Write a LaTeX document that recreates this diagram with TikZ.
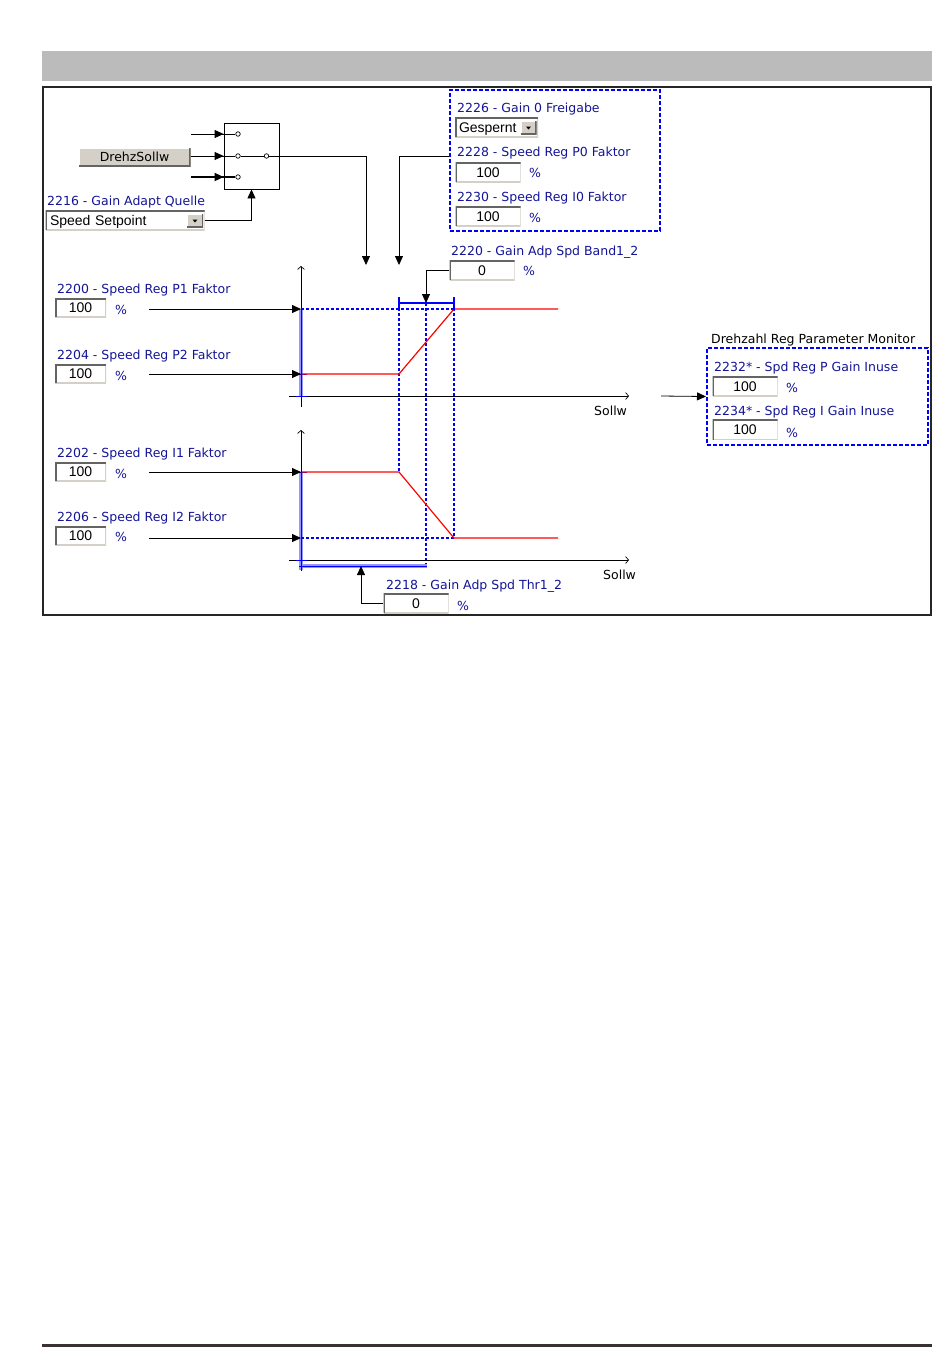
\documentclass[tikz,border=0pt]{standalone}
\usepackage{fontspec}
\setmainfont{Liberation Sans}
\newfontfamily\tahoma{DejaVu Sans}
\usetikzlibrary{arrows.meta}
\definecolor{parblue}{RGB}{20,20,150}
\definecolor{bandblue}{RGB}{0,0,255}
\definecolor{lightband}{RGB}{150,150,255}
\definecolor{headgray}{RGB}{187,187,187}
\definecolor{btngray}{RGB}{212,208,200}
\definecolor{shadegray}{RGB}{100,100,100}
\definecolor{rulegray}{RGB}{58,50,50}

\begin{document}
\begin{tikzpicture}[x=1pt, y=-1pt,
    lbl/.style = {anchor=base west, inner sep=0pt, text=parblue, font=\tahoma\fontsize{12.5}{14}\selectfont},
    axlbl/.style = {lbl, text=black},
    pct/.style = {inner sep=0pt, text=parblue, font=\tahoma\fontsize{12.5}{12}\selectfont},
    sunken/.style = {fill=white, inner sep=0pt, font=\fontsize{14}{14}\selectfont, text height=10pt, text depth=0pt,
        path picture={\draw[btngray, line width=2pt] (path picture bounding box.south west) -- (path picture bounding box.south east) -- (path picture bounding box.north east);
                      \draw[shadegray, line width=3pt] (path picture bounding box.south west) -- (path picture bounding box.north west) -- (path picture bounding box.north east);}},
    raised/.style = {fill=btngray, inner sep=0pt,
        path picture={\draw[white, line width=2pt] (path picture bounding box.south west) -- (path picture bounding box.north west) -- (path picture bounding box.north east);
                      \draw[shadegray, line width=3pt] (path picture bounding box.south west) -- (path picture bounding box.south east) -- (path picture bounding box.north east);}},
    val/.style = {sunken, minimum width=51pt, minimum height=19pt},
    wval/.style = {sunken, minimum width=65pt, minimum height=20pt},
    pin/.style = {draw, circle, fill=white, inner sep=0pt, minimum size=4.5pt, line width=0.7pt},
    sig/.style = {-{Triangle[length=9pt,width=8pt]}, line width=0.8pt},
    axis/.style = {-{Straight Barb[length=3pt,width=7pt]}, line width=0.7pt},
    ramp/.style = {red, line width=1.2pt},
    guide/.style = {bandblue, line width=1.2pt, dash pattern=on 3pt off 2pt},
    grp/.style = {draw=bandblue, line width=2pt, dash pattern=on 4pt off 2pt},
    bar/.style = {lightband, line width=4.5pt},
    barline/.style = {bandblue, line width=1pt}]

    \useasboundingbox (0,0) rectangle (950,1369);
    \fill[headgray] (42,51) rectangle (932,81);
    \draw[line width=2pt, black!85] (43,87) rectangle (931,615);
    \draw[line width=3pt, rulegray] (42,1345) -- (932,1345);

    % source switch
    \node[draw, line width=0.8pt, minimum width=55pt, minimum height=66pt] (Sw) at (251.5,156) {};
    \node[pin] (i1) at (238,134) {};
    \node[pin] (i2) at (238,156) {};
    \node[pin] (i3) at (238,177) {};
    \node[pin] (o1) at (266.5,156) {};
    \coordinate (s1) at (191,134);
    \coordinate (s3) at (191,177);
    \node[raised, minimum width=112pt, minimum height=19pt, font=\tahoma\fontsize{12.5}{14}\selectfont] (DS) at (134.5,157) {DrehzSollw};

    \draw[line width=0.8pt] (s1) -- (i1) (DS.east |- i2) -- (i2) -- (o1);
    \draw[line width=1.8pt] (s3) -- (i3);
    \path[sig] (s1) edge (Sw.west |- i1)
               (DS.east |- i2) edge (Sw.west |- i2);
    \path[sig, line width=1.8pt] (s3) edge (Sw.west |- i3);

    \node[lbl] (L2216) at (47,205.5) {2216 - Gain Adapt Quelle};
    \node[sunken, minimum width=159pt, minimum height=20pt, text width=150pt, align=left] (QSel) at (125,220) {Speed Setpoint};
    \node[raised, minimum width=16pt, minimum height=13pt] (QBtn) at (195,220.5) {};
    \fill (QBtn.center) ++(-2.5,-1) -- ++(5,0) -- ++(-2.5,3) -- cycle;
    \draw[sig] (QSel.east) -| (Sw.south);

    % gain 0 group
    \node[grp, minimum width=210pt, minimum height=141pt] (G0) at (555,160.5) {};
    \node[lbl] (L2226) at (457,112) {2226 - Gain 0 Freigabe};
    \node[sunken, minimum width=83pt, minimum height=20pt, text width=75pt, align=left] (Gesp) at (496.5,127) {Gespernt};
    \node[raised, minimum width=16pt, minimum height=14pt] (GBtn) at (528.5,127.5) {};
    \fill (GBtn.center) ++(-2.5,-1) -- ++(5,0) -- ++(-2.5,3) -- cycle;
    \node[lbl] (L2228) at (457,156) {2228 - Speed Reg P0 Faktor};
    \node[wval] (P0) at (488,172) {100};
    \node[pct] (P0pct) at (535,173) {\%};
    \node[lbl] (L2230) at (457,201) {2230 - Speed Reg I0 Faktor};
    \node[wval] (I0) at (488,216) {100};
    \node[pct] (I0pct) at (535,218) {\%};

    \coordinate (selin) at (366,265);
    \coordinate (g0in) at (399,265);
    \draw[sig] (o1) -| (selin);
    \draw[sig] (G0.west |- o1) -| (g0in);

    % band
    \node[lbl] (L2220) at (451,255) {2220 - Gain Adp Spd Band1\_2};
    \node[wval] (Band) at (482,270) {0};
    \node[pct] (Bandpct) at (529,271) {\%};
    \coordinate (bandtop) at (426,303);

    % upper chart
    \draw[axis] (301,407) -- (301,266);
    \draw[axis] (289,396) -- (629,396);
    \node[axlbl] (X1) at (594,415) {Sollw};
    \draw[bar] (301,309) -- (301,396);
    \draw[barline] (301,309) -- (301,396) (297,374) -- (307,374) (296,396) -- (307,396);
    \draw[guide] (301,309) -- (454,309);
    \draw[guide] (399,303) -- (399,472) (426,303) -- (426,566) (454,303) -- (454,538);
    \draw[ramp] (302,374) -- (399,374) -- (454,309) -- (558,309);
    \draw[bandblue, line width=1.5pt] (399,297) -- (399,310) (399,303) -- (454,303) (454,297) -- (454,310);
    \draw[sig] (Band.west) -| (bandtop);

    \node[lbl] (L2200) at (57,293) {2200 - Speed Reg P1 Faktor};
    \node[val] (P1) at (80.5,307.5) {100};
    \node[pct] (P1pct) at (121,310) {\%};
    \node[lbl] (L2204) at (57,359) {2204 - Speed Reg P2 Faktor};
    \node[val] (P2) at (80.5,373.5) {100};
    \node[pct] (P2pct) at (121,376) {\%};
    \coordinate (p1s) at (149,309);
    \coordinate (p1e) at (301,309);
    \coordinate (p2s) at (149,374);
    \coordinate (p2e) at (301,374);
    \path[sig] (p1s) edge (p1e)
               (p2s) edge (p2e);

    % lower chart
    \draw[axis] (301,571) -- (301,430);
    \draw[axis] (289,560) -- (629,560);
    \node[axlbl] (X2) at (603,579) {Sollw};
    \draw[bar] (301,472) -- (301,570) (299,566) -- (427,566);
    \draw[barline] (301,472) -- (301,570) (299,566) -- (427,566) (297,472) -- (307,472) (296,560) -- (307,560);
    \draw[guide] (301,538) -- (454,538);
    \draw[ramp] (302,472) -- (399,472) -- (454,538) -- (558,538);

    \node[lbl] (L2202) at (57,457) {2202 - Speed Reg I1 Faktor};
    \node[val] (I1) at (80.5,471.5) {100};
    \node[pct] (I1pct) at (121,474) {\%};
    \node[lbl] (L2206) at (57,521) {2206 - Speed Reg I2 Faktor};
    \node[val] (I2) at (80.5,535.5) {100};
    \node[pct] (I2pct) at (121,537) {\%};
    \coordinate (i1s) at (149,472);
    \coordinate (i1e) at (301,472);
    \coordinate (i2s) at (149,538);
    \coordinate (i2e) at (301,538);
    \path[sig] (i1s) edge (i1e)
               (i2s) edge (i2e);

    \node[lbl] (L2218) at (386,589) {2218 - Gain Adp Spd Thr1\_2};
    \node[wval] (Thr) at (416,603) {0};
    \node[pct] (Thrpct) at (463,606) {\%};
    \coordinate (thrtop) at (361,566);
    \draw[sig] (Thr.west) -| (thrtop);

    % monitor
    \node[axlbl] (LMon) at (711,343) {Drehzahl Reg Parameter Monitor};
    \node[grp, minimum width=221pt, minimum height=97pt] (Mon) at (817.5,396.5) {};
    \node[lbl] (L2232) at (714,371) {2232* - Spd Reg P Gain Inuse};
    \node[wval] (PUse) at (745,386) {100};
    \node[pct] (PUsepct) at (792,388) {\%};
    \node[lbl] (L2234) at (714,415) {2234* - Spd Reg I Gain Inuse};
    \node[wval] (IUse) at (745,429.5) {100};
    \node[pct] (IUsepct) at (792,433) {\%};
    \coordinate (monin) at (661,396);
    \draw[sig] (monin) -- (Mon.west);
\end{tikzpicture}
\end{document}
